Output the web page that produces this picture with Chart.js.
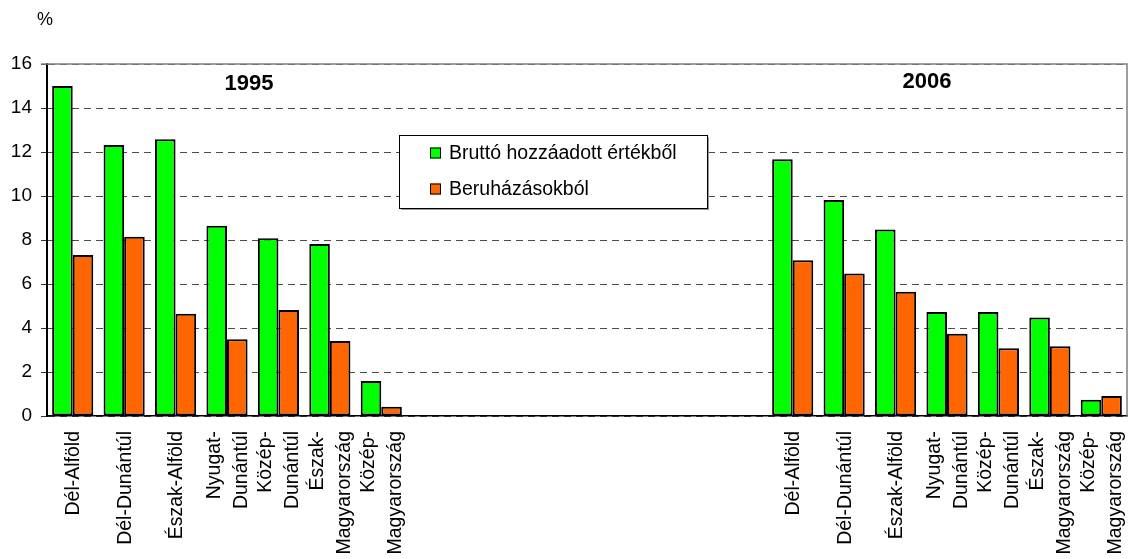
<!DOCTYPE html>
<html>
<head>
<meta charset="utf-8">
<script src="https://cdn.jsdelivr.net/npm/chart.js@4/dist/chart.umd.min.js"></script>
<style>
  html, body { margin: 0; padding: 0; background: #fff; }
  #wrap { width: 1128px; height: 559px; position: relative; }
</style>
</head>
<body>
<div id="wrap"><canvas id="chart" width="1128" height="559"></canvas></div>
<script>
// regions, 1995 group - gap - 2006 group
const regions = ['Dél-Alföld', 'Dél-Dunántúl', 'Észak-Alföld', ['Nyugat-', 'Dunántúl'],
  ['Közép-', 'Dunántúl'], ['Észak-', 'Magyarország'], ['Közép-', 'Magyarország']]
const gap = ['', '', '', '', '', '', '']
const labels = [...regions, ...gap, ...regions]

const years = ['1995', '2006']
const seriesNames = ['Bruttó hozzáadott értékből', 'Beruházásokból']

const gva1995 = [15.0, 12.32, 12.58, 8.65, 8.08, 7.82, 1.59]
const inv1995 = [7.32, 8.15, 4.65, 3.49, 4.82, 3.41, 0.42]
const gva2006 = [11.67, 9.82, 8.48, 4.73, 4.73, 4.48, 0.74]
const inv2006 = [7.08, 6.48, 5.65, 3.74, 3.08, 3.17, 0.91]
const empty = [null, null, null, null, null, null, null]

const yTicks = [0, 2, 4, 6, 8, 10, 12, 14, 16]

const FONT = '"Liberation Sans", Arial, sans-serif'

const extras = {
  id: 'extras',
  afterDraw(chart) {
    const ctx = chart.ctx
    const a = chart.chartArea
    const x = chart.scales.x
    ctx.save()

    // grey frame top / right
    ctx.strokeStyle = '#808080'
    ctx.lineWidth = 1.5
    ctx.beginPath()
    ctx.moveTo(a.left - 6, a.top)
    ctx.lineTo(a.right, a.top)
    ctx.lineTo(a.right, a.bottom)
    ctx.stroke()

    // category labels, rotated, lines side by side
    ctx.fillStyle = '#000'
    ctx.font = '19.5px ' + FONT
    ctx.textAlign = 'right'
    ctx.textBaseline = 'middle'
    chart.data.labels.forEach((lab, i) => {
      const lines = Array.isArray(lab) ? lab : [lab]
      const px = x.getPixelForTick(i)
      lines.forEach((ln, j) => {
        if (!ln) return
        const off = (j - (lines.length - 1) / 2) * 27
        ctx.save()
        ctx.translate(px + off + 1, a.bottom + 15)
        ctx.rotate(-Math.PI / 2)
        ctx.fillText(ln, 0, 0)
        ctx.restore()
      })
    })

    // unit + year titles
    ctx.textAlign = 'center'
    ctx.font = '18px ' + FONT
    ctx.fillText('%', 45, 20)
    ctx.font = 'bold 22px ' + FONT
    ctx.fillText(years[0], 249, 84)
    ctx.fillText(years[1], 927, 82)

    // legend box
    const bx = 399, by = 135, bw = 308, bh = 73
    ctx.fillStyle = '#999'
    ctx.fillRect(bx + 2, by + 2, bw, bh)
    ctx.fillStyle = '#fff'
    ctx.fillRect(bx, by, bw, bh)
    ctx.strokeStyle = '#000'
    ctx.lineWidth = 1
    ctx.strokeRect(bx + 0.5, by + 0.5, bw, bh)
    ctx.textAlign = 'left'
    ctx.font = '19.5px ' + FONT
    chart.data.datasets.slice(0, 2).forEach((ds, k) => {
      const cy = 153 + k * 36
      ctx.fillStyle = ds.backgroundColor
      ctx.fillRect(430, cy - 5.5, 11, 11)
      ctx.strokeStyle = '#000'
      ctx.strokeRect(430.5, cy - 5, 10, 10)
      ctx.fillStyle = '#000'
      ctx.fillText(ds.label, 449, cy + 1)
    })
    ctx.restore()
  }
}

new Chart(document.getElementById('chart'), {
  type: 'bar',
  data: {
    labels: labels,
    datasets: [
      {
        label: seriesNames[0],
        data: [...gva1995, ...empty, ...gva2006],
        backgroundColor: '#00FF00',
        borderColor: '#000',
        borderWidth: 2,
        borderSkipped: false
      },
      {
        label: seriesNames[1],
        data: [...inv1995, ...empty, ...inv2006],
        backgroundColor: '#FF6600',
        borderColor: '#000',
        borderWidth: 2,
        borderSkipped: false
      }
    ]
  },
  options: {
    responsive: false,
    animation: false,
    devicePixelRatio: 1,
    layout: { padding: { top: 64, right: 1, left: 0, bottom: 0 } },
    datasets: { bar: { categoryPercentage: 0.8, barPercentage: 1.0 } },
    plugins: { legend: { display: false }, tooltip: { enabled: false } },
    scales: {
      x: {
        grid: { display: false },
        border: { display: true, color: '#000', width: 1.5 },
        ticks: { display: false },
        afterFit(s) { s.height = 143 }
      },
      y: {
        min: 0,
        max: 16,
        afterBuildTicks(s) { s.ticks = yTicks.map(v => ({ value: v })) },
        grid: { color: '#4d4d4d', lineWidth: 1, tickLength: 6, tickColor: '#333' },
        border: { display: true, color: '#000', width: 2, dash: [7, 5] },
        ticks: { color: '#000', font: { family: FONT, size: 19 }, padding: 9 },
        afterFit(s) { s.width = 47 }
      }
    }
  },
  plugins: [extras]
})
</script>
</body>
</html>
